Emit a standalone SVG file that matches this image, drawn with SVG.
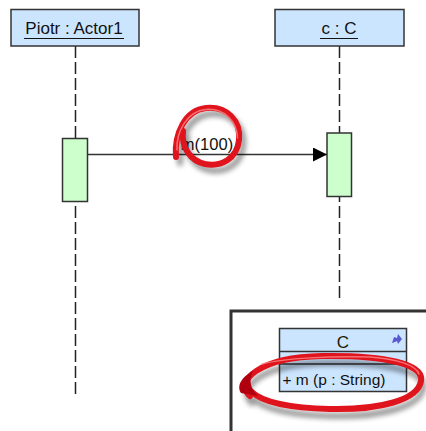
<svg xmlns="http://www.w3.org/2000/svg" width="426" height="431" viewBox="0 0 426 431">
<defs>
<style>
.obj{fill:#cce5ff;stroke:#333;stroke-width:1.5}
.act{fill:#ccffcc;stroke:#333;stroke-width:1.5}
.life{stroke:#222;stroke-width:1.5;stroke-dasharray:12,4;fill:none}
.lbl{font-family:"Liberation Sans",Arial,sans-serif;font-size:17px;fill:#111}
.ul{stroke:#111;stroke-width:1.2}
.msg{stroke:#333;stroke-width:1.3;fill:none}
.red{fill:none;stroke:#e0141c;stroke-width:6;stroke-linecap:round}
.hi{fill:none;stroke:#ff9090;stroke-width:1.5;stroke-linecap:round;opacity:0.75}
.shadow{fill:none;stroke:#000;stroke-width:6;opacity:0.4;stroke-linecap:round}
</style>
<filter id="blur" x="-20%" y="-20%" width="140%" height="140%"><feGaussianBlur stdDeviation="2.5"/></filter>
<marker id="arr" markerWidth="14" markerHeight="14" refX="14" refY="7" orient="auto" markerUnits="userSpaceOnUse">
<path d="M0,0 L14,7 L0,14 Z" fill="#000"/>
</marker>
</defs>
<rect width="426" height="431" fill="#fff"/>

<g id="piotr">
<line class="life" x1="75.5" y1="46" x2="75.5" y2="397"/>
<rect class="obj" x="11" y="9.5" width="128" height="36.5"/>
<text class="lbl" x="74" y="34" text-anchor="middle">Piotr : Actor1</text>
<line class="ul" x1="24" y1="38.5" x2="124" y2="38.5"/>
<rect class="act" x="62.5" y="138.5" width="25" height="63"/>
</g>

<g id="c">
<line class="life" x1="339.5" y1="46" x2="339.5" y2="298"/>
<rect class="obj" x="275" y="9.5" width="129" height="36.5"/>
<text class="lbl" x="339" y="34" text-anchor="middle">c : C</text>
<line class="ul" x1="320" y1="38.5" x2="358" y2="38.5"/>
<rect class="act" x="327" y="133" width="24.5" height="63.5"/>
</g>

<g id="connectors">
<line class="msg" x1="87.5" y1="154.5" x2="327" y2="154.5" marker-end="url(#arr)"/>
<text x="207" y="150" text-anchor="middle" style="font-family:'Liberation Sans',Arial,sans-serif;font-size:16.5px;fill:#111">m(100)</text>
</g>

<g id="scribble1">
<path class="shadow" filter="url(#blur)" transform="translate(4,6)" d="M176,157 C174,134 185,110 206,108 C227,106 241,121 239,140 C237,159 221,167 205,164 C191,161 181,148 183,131"/>
<path class="red" d="M176,157 C174,134 185,110 206,108 C227,106 241,121 239,140 C237,159 221,167 205,164 C191,161 181,148 183,131"/>
<path class="hi" d="M177,150 C176,132 187,111 206,109.5 C224,108 237,121 237.5,138"/>
</g>

<g id="inset">
<rect x="231" y="311" width="200" height="130" fill="#fff" stroke="#333" stroke-width="3"/>
<g id="classC">
<rect class="obj" x="279.5" y="328.5" width="127" height="63"/>
<line stroke="#333" stroke-width="1.5" x1="279.5" y1="351.5" x2="406.5" y2="351.5"/>
<line stroke="#333" stroke-width="1.5" x1="279.5" y1="364" x2="406.5" y2="364"/>
<text x="343" y="348" text-anchor="middle" style="font-family:'Liberation Sans',Arial,sans-serif;font-size:17px;fill:#221a00">C</text>
<path d="M392,343 L394,337 L397,338 L398,334 L402,339 L398,344 L397,341 L395,342 Z" fill="#5a5ad0"/>
<text x="282.5" y="385" style="font-family:'Liberation Sans',Arial,sans-serif;font-size:15.5px;fill:#111">+ m (p : String)</text>
</g>
</g>

<g id="scribble2">
<path class="shadow" filter="url(#blur)" transform="translate(2,7)" d="M250,396 C234,382 258,357 322,356 C385,355 424,364 421,381 C418,400 380,410 330,409 C290,408 262,402 252,392"/>
<path class="red" stroke-width="6.5" d="M250,396 C234,382 258,357 322,356 C385,355 424,364 421,381 C418,400 380,410 330,409 C290,408 262,402 252,392"/>
<path d="M241,393 C236,385 243,376 253,371 C248,381 251,389 258,396 Z" fill="#b00010"/>
<path class="hi" d="M262,364 C285,358 330,356 370,357 C397,359 416,365 419,374"/>
</g>
</svg>
